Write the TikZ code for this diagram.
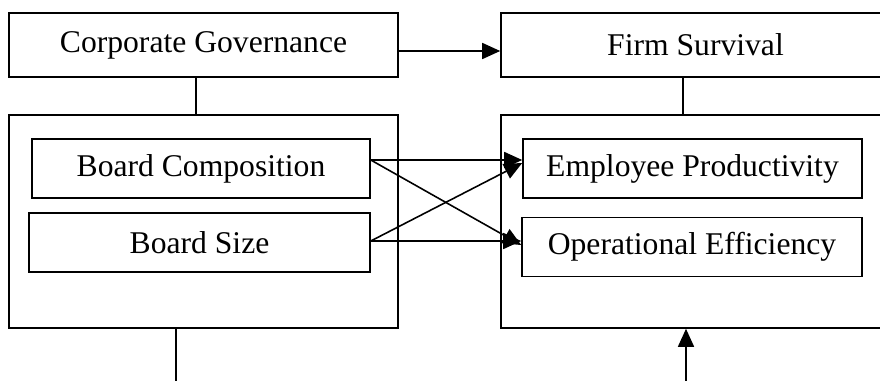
\documentclass[tikz,border=0pt]{standalone}
\usepackage{fontspec}
\setmainfont{Liberation Serif}
\usepackage{tikz}
\usetikzlibrary{positioning,calc,arrows.meta}

\begin{document}
\begin{tikzpicture}[
					line width=0.9pt,
					topbox/.style={
						rectangle, draw=black, line width=0.9pt,
						minimum width=7.78cm, minimum height=1.28cm, inner sep=0pt,
						font=\fontsize{18}{22}\selectfont
					},
					outerbox/.style={
						rectangle, draw=black, line width=0.9pt,
						minimum width=7.78cm, minimum height=4.26cm, inner sep=0pt
					},
					varbox/.style={
						rectangle, draw=black, line width=0.9pt,
						minimum height=1.18cm, inner sep=0pt,
						font=\fontsize{18}{22}\selectfont
					},
					arr/.style={-{Triangle[length=3.6mm,width=3.2mm]}}
					]
					\useasboundingbox (0,0) rectangle (17.6,-7.62);
					
					% --- BÊN TRÁI: Corporate Governance ---
					\node[topbox] (cg) at (4.07,-0.90) {Corporate Governance};
					\node[outerbox] (lbox) at (4.07,-4.43) {};
					\node[varbox, minimum width=6.76cm] (bc) at (4.02,-3.37) {Board Composition};
					\node[varbox, minimum width=6.82cm] (bs) at (3.99,-4.85) {Board Size};
					
					% --- BÊN PHẢI: Firm Survival ---
					\node[topbox] (fs) at (13.91,-0.90) {Firm Survival};
					\node[outerbox] (rbox) at (13.91,-4.43) {};
					\node[varbox, minimum width=6.78cm] (ep) at (13.85,-3.37) {Employee Productivity};
					\node[varbox, minimum width=6.80cm] (oe) at (13.84,-4.94) {Operational Efficiency};
					
					% --- đầu tự do ở dưới ---
					\coordinate (lend) at (3.52,-7.62);
					\coordinate (rend) at (13.72,-7.62);
					
					% --- NỐI ---
					\draw ([xshift=-0.15cm]cg.south) -- ([xshift=-0.15cm]cg.south |- lbox.north);
					\draw ([xshift=-0.25cm]fs.south) -- ([xshift=-0.25cm]fs.south |- rbox.north);
					\draw[arr] ([yshift=-0.12cm]cg.east) -- ([yshift=-0.12cm]fs.west);
					
					\draw[arr] ([yshift=0.17cm]bc.east) -- ([yshift=0.17cm]bc.east -| ep.west);
					\draw[arr] ([yshift=0.17cm]bc.east) -- ([yshift=0.04cm]oe.west);
					\draw[arr] ([yshift=0.03cm]bs.east) -- ([yshift=0.11cm]ep.west);
					\draw[arr] ([yshift=0.03cm]bs.east) -- ([yshift=0.03cm]bs.east -| oe.west);
					
					\draw (lend |- lbox.south) -- (lend);
					\draw[arr] (rend) -- (rend |- rbox.south);
				\end{tikzpicture}
\end{document}
